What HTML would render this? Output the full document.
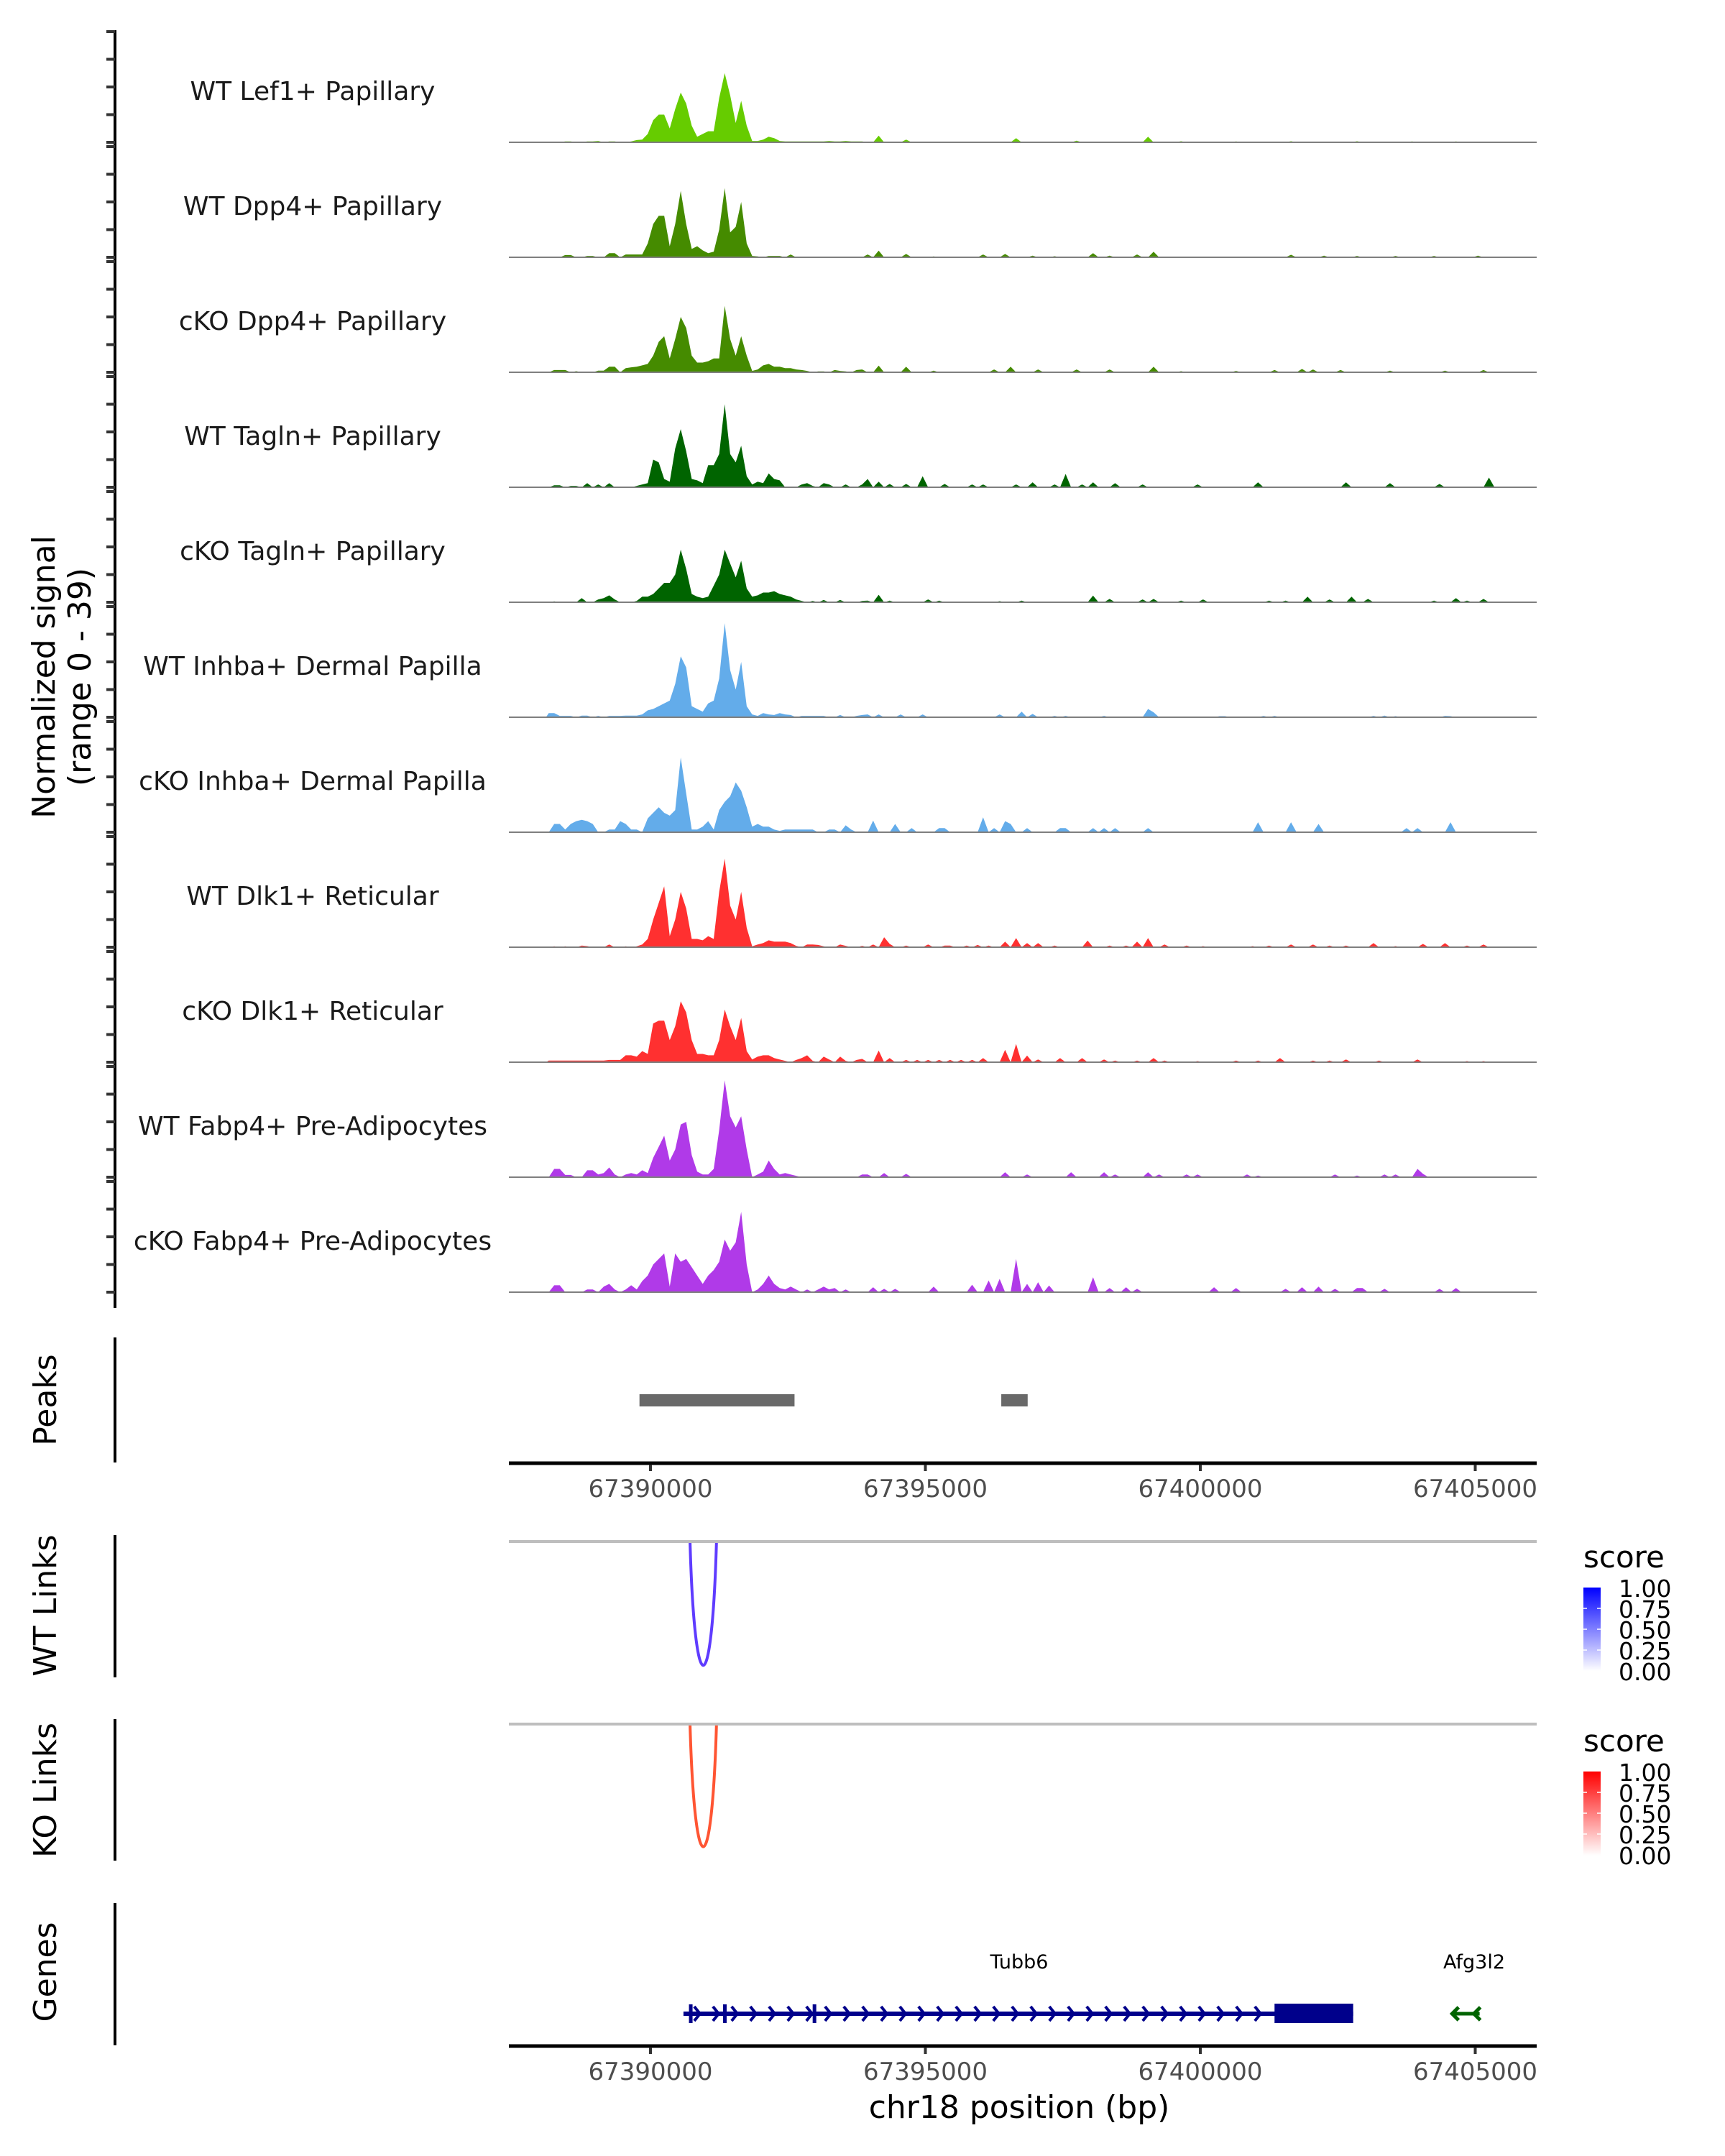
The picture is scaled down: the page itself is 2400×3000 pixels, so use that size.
<!DOCTYPE html>
<html><head><meta charset="utf-8"><title>Coverage plot</title>
<style>html,body{margin:0;padding:0;background:#fff}svg{display:block}text{font-family:"DejaVu Sans","Liberation Sans",sans-serif}</style>
</head><body>
<svg id="fig" xmlns="http://www.w3.org/2000/svg" width="2400" height="3000" viewBox="0 0 2400 3000">
<defs>
<linearGradient id="gBlue" x1="0" y1="1" x2="0" y2="0"><stop offset="0" stop-color="#ffffff"/><stop offset="1" stop-color="#0000ff"/></linearGradient>
<linearGradient id="gRed" x1="0" y1="1" x2="0" y2="0"><stop offset="0" stop-color="#ffffff"/><stop offset="1" stop-color="#ff0000"/></linearGradient>
</defs>
<g id="tracks"></g>
<line x1="160" y1="42" x2="160" y2="1820" stroke="#000" stroke-width="4"/>
<g id="yticks"></g>
<text transform="translate(76,942) rotate(-90)" text-anchor="middle" font-size="44" fill="#000">Normalized signal</text>
<text transform="translate(126,942) rotate(-90)" text-anchor="middle" font-size="44" fill="#000">(range 0 - 39)</text>

<line x1="160" y1="1861" x2="160" y2="2035" stroke="#000" stroke-width="4"/>
<text transform="translate(78,1948) rotate(-90)" text-anchor="middle" font-size="44">Peaks</text>
<g id="peaks"></g>
<line x1="708" y1="2036" x2="2138" y2="2036" stroke="#000" stroke-width="5"/>
<g id="xaxis1"></g>

<line x1="160" y1="2136" x2="160" y2="2334" stroke="#000" stroke-width="4"/>
<text transform="translate(78,2234) rotate(-90)" text-anchor="middle" font-size="44">WT Links</text>
<line x1="708" y1="2145" x2="2138" y2="2145" stroke="#bebebe" stroke-width="4"/>
<g id="wtlinks"></g>

<line x1="160" y1="2392" x2="160" y2="2589" stroke="#000" stroke-width="4"/>
<text transform="translate(78,2491) rotate(-90)" text-anchor="middle" font-size="44">KO Links</text>
<line x1="708" y1="2399" x2="2138" y2="2399" stroke="#bebebe" stroke-width="4"/>
<g id="kolinks"></g>

<g>
<text x="2203" y="2181" font-size="42">score</text>
<rect x="2203" y="2209" width="24" height="116" fill="url(#gBlue)"/>
<g font-size="33">
<text x="2252" y="2222">1.00</text><text x="2252" y="2251">0.75</text><text x="2252" y="2280">0.50</text><text x="2252" y="2309">0.25</text><text x="2252" y="2338">0.00</text></g>
<g stroke="#fff" stroke-width="1.5"><line x1="2203" y1="2238" x2="2208" y2="2238"/><line x1="2222" y1="2238" x2="2227" y2="2238"/><line x1="2203" y1="2267" x2="2208" y2="2267"/><line x1="2222" y1="2267" x2="2227" y2="2267"/><line x1="2203" y1="2296" x2="2208" y2="2296"/><line x1="2222" y1="2296" x2="2227" y2="2296"/></g>
</g>
<g>
<text x="2203" y="2437" font-size="42">score</text>
<rect x="2203" y="2465" width="24" height="117" fill="url(#gRed)"/>
<g font-size="33">
<text x="2252" y="2478">1.00</text><text x="2252" y="2507">0.75</text><text x="2252" y="2536">0.50</text><text x="2252" y="2565">0.25</text><text x="2252" y="2594">0.00</text></g>
<g stroke="#fff" stroke-width="1.5"><line x1="2203" y1="2494" x2="2208" y2="2494"/><line x1="2222" y1="2494" x2="2227" y2="2494"/><line x1="2203" y1="2523" x2="2208" y2="2523"/><line x1="2222" y1="2523" x2="2227" y2="2523"/><line x1="2203" y1="2552" x2="2208" y2="2552"/><line x1="2222" y1="2552" x2="2227" y2="2552"/></g>
</g>

<line x1="160" y1="2648" x2="160" y2="2846" stroke="#000" stroke-width="4"/>
<text transform="translate(78,2744) rotate(-90)" text-anchor="middle" font-size="44">Genes</text>
<g id="genes"></g>
<line x1="708" y1="2847" x2="2138" y2="2847" stroke="#000" stroke-width="5"/>
<g id="xaxis2"></g>
<text x="1418" y="2947" text-anchor="middle" font-size="44" fill="#000">chr18 position (bp)</text>
</svg>
<script>
// ---- data ----
const trackNames = ["WT Lef1+ Papillary","WT Dpp4+ Papillary","cKO Dpp4+ Papillary","WT Tagln+ Papillary","cKO Tagln+ Papillary","WT Inhba+ Dermal Papilla","cKO Inhba+ Dermal Papilla","WT Dlk1+ Reticular","cKO Dlk1+ Reticular","WT Fabp4+ Pre-Adipocytes","cKO Fabp4+ Pre-Adipocytes"];
const trackColors = ["#66cc00","#458b00","#458b00","#006400","#006400","#63acea","#63acea","#ff3030","#ff3030","#b03ae8","#b03ae8"];
const binStart = 67388100;
const binSize = 100;
const nBins = 175;
const core1 = [0,0,0,.3,.3,0,0,.3,.3,.5, 0,.3,.3,0,0,.3,.8,1,3,8, 10,10,5,12,18,14,6,2,3,4, 4,16,25,17,7,15,6,.5,.5,1, 2,1.5,.5,.3,.3,.3,.3,.3,.3,.3, .3,.5,.3,.3,.5,.3,.3,.3];
const core2 = [0,0,0,.8,.8,0,0,.5,.5,0, 0,1.5,1.5,0,1,1,1,1,5,12, 15,15,4,12,24,12,3,4,2.5,1.5, 2,10,25,9,11,20,5,.5,.3,0, .5,.5,.5,0,1,0,0,0,0,0, 0,0,0,0,0,0,0,0];
const core3 = [0,.8,.8,.8,0,.4,0,0,0,.6, .6,2,2,0,1.5,1.8,2,2.5,3,6, 11,13,5,12,20,16,6,3.5,3.5,4, 5,5,24,12,6,13,6,.5,1,2.5, 3,2,2,1.5,1.5,1,.8,.5,0,.3, .3,0,.8,.5,.3,0,.8,1];
const core4 = [0,.7,.7,0,.5,.5,0,1.5,0,1, 0,1.5,0,0,0,0,.5,1,1.5,10, 9,3,2,14,21,13,3,2.5,1.5,8, 8,12,30,12,9,15,4,1,2,1.5, 5,3,2.5,0,0,0,1,1.5,.5,0, 1.5,1,0,0,1,0,0,1];
const core5 = [0,.3,0,0,0,0,1.5,0,0,1, 1.5,2.5,1,0,0,0,.5,2,2,3, 5,7,7,10,19,12,3,2,1.5,2, 6,10,19,14,9,15,5,2,2.5,3.5, 3.5,4,3,2.5,2,1,.5,0,.5,0, .8,0,0,.8,0,0,0,.5];
const core6 = [1.5,1.5,.5,.5,.5,0,.6,.6,0,.5, 0,.5,.5,.5,.6,.6,.6,1,2.5,3, 4,5,6,12,22,18,4,3,2,5, 6,14,34,17,10,20,4,1,.5,1.5, 1,.8,1.5,1,.8,0,.5,.5,.5,.5, .5,0,0,.8,0,0,.5,.8];
const core7 = [0,3,3,1,3,4,4.5,4,3,0, 0,1,1,4,3,1,1,0,5,7, 9,7,6,8,27,14,1,1,2,4, 1,8,11,13,18,15,9,2,3,2, 2,1,.5,1,1,1,1,1,1,0, 0,1,1,0,2.5,1,0,0];
const core8 = [0,.3,0,.3,0,0,.6,.4,0,0, 0,1,0,0,.3,0,.3,1,3,10, 16,22,4,10,20,14,3,3,2.5,4, 3,20,32,15,10,20,7,.3,1,1.5, 2.5,2,2,2,1.5,.5,0,1,1,.8, .3,0,0,1,.5,0,0,.5];
const core9 = [.6,.6,.6,.6,.6,.6,.6,.6,.6,.6, .6,.8,.8,.8,2.5,2.5,2,4,3,14, 15,15,8,13,22,18,8,3,3,2.5, 2.5,8,19,13,8,16,4,1,2,2.5, 2.5,1.5,1,.5,0,.8,1.5,2.5,.5,0, 2,1,0,2,.5,0,.8,.8];
const core10 = [0,3,3,.8,.8,0,0,2.5,2.5,1, 1.5,3.5,1,0,1,1.5,1,2.5,1.5,7, 11,15,6,10,19,20,8,2,1,1, 3,17,35,22,18,22,10,0,1,2, 6,3,1,1.5,1,.5,0,0,0,0, 0,0,0,0,0,0,0,1];
const core11 = [0,2.5,2.5,0,0,0,0,1,1,0, 2,3,1,0,1,2.5,1,4,6,10, 12,14,2,14,11,12,9,6,3,6, 8,11,19,15,18,29,10,0,1,3, 6,3,1.5,1,2,1,0,1,0,1, 2,1,1.5,0,1,0,0,0];
const tailBins1 = [60,65,85,96,109,115,125,135,147,157,165];
const tailVals1 = [2.4,1,1.5,.6,2,.4,.3,.4,.4,.3,.3];
const tailBins2 = [58,60,65,70,79,83,88,92,99,102,107,110,135,141,147,154,161,169];
const tailVals2 = [1,2.4,1.2,.3,1,1.2,.6,.4,1.5,.6,1,2,.9,.6,.5,.5,.5,.6];
const tailBins3 = [60,65,70,81,84,89,96,102,110,115,125,132,137,139,144,153,163,170];
const tailVals3 = [2.4,2,.6,1,2,1,1,1,2,.4,.5,.8,1.2,1,.8,.6,.6,.8];
const tailBins4 = [58,60,62,65,68,72,77,79,85,88,92,94,97,99,103,108,118,129,145,153,162,171];
const tailVals4 = [3,2,1.2,1.2,4,1.2,1,1,1,1.8,1,4.8,1,1.8,1.5,1,1,1.8,1.8,1.5,1.2,3.5];
const tailBins5 = [58,60,62,69,71,82,86,99,102,108,110,115,119,131,134,138,142,146,149,161,165,167,170];
const tailVals5 = [.6,2.7,.6,1,.6,.4,.6,2.4,1.2,1,1.2,.6,1,.6,.6,2,1,2,1.2,.6,1.5,.6,1.2];
const tailBins6 = [58,60,64,68,82,86,88,92,94,101,109,110,122,123,130,132,150,152,154,163,164];
const tailVals6 = [1,1,1,1,1,2,1.2,.5,.5,.5,3,1.8,.4,.4,.5,.5,.5,.6,.4,.5,.4];
const tailBins7 = [59,63,66,71,72,79,81,83,84,87,93,94,99,101,103,109,129,135,140,156,158,164];
const tailVals7 = [4.2,3,1.5,1.5,1.5,5.4,1.5,4,3,1.5,1.5,1.5,1.5,1.5,1.5,1.5,3.6,3.6,3,1.5,1.5,3.6];
const tailBins8 = [59,61,62,65,69,72,73,76,78,80,83,85,87,89,92,98,102,105,107,109,112,116,119,128,131,135,139,142,145,150,154,159,163,167,170];
const tailVals8 = [1,3.6,1.2,.6,1,.6,.6,.6,.8,.6,2,3.3,1.5,1.5,.6,2.4,.6,.6,2,3.3,1,.6,.4,.4,.6,1,1,.6,.6,1.5,.4,1.2,1.5,.6,1];
const tailBins9 = [57,60,62,65,67,69,71,73,75,77,79,83,85,87,89,93,97,101,103,107,110,112,118,125,129,133,139,142,145,151,158,167,170];
const tailVals9 = [1.2,4.2,1.5,.8,.8,.8,.8,.8,.8,.8,1.5,4.5,6.6,2.4,1,1.5,1.5,1,.6,.6,1.5,.6,.4,.6,.6,1.5,.6,.6,1,.6,1,.4,.4];
const tailBins10 = [58,61,65,83,87,95,101,103,109,111,116,118,127,129,143,147,152,154,158,159];
const tailVals10 = [1,1.5,1.2,1.8,1,1.8,1.8,1,1.8,1,1,1,1,.6,1,.6,1,1,3,1.2];
const tailBins11 = [59,61,63,70,77,80,82,85,87,89,91,99,102,105,107,121,125,134,137,140,143,147,148,152,162,165];
const tailVals11 = [1.8,1.2,1.2,2,2.7,4.2,4.8,12,3,3.6,2.4,5.4,1.5,1.8,1.2,1.8,1.5,1.2,1.8,2,1.2,1.5,1.5,1.2,1.2,1.5];
const coreArrays = [core1,core2,core3,core4,core5,core6,core7,core8,core9,core10,core11];
const tailBinArrays = [tailBins1,tailBins2,tailBins3,tailBins4,tailBins5,tailBins6,tailBins7,tailBins8,tailBins9,tailBins10,tailBins11];
const tailValArrays = [tailVals1,tailVals2,tailVals3,tailVals4,tailVals5,tailVals6,tailVals7,tailVals8,tailVals9,tailVals10,tailVals11];
const yTickValues = [0,10,20,30,40];
const peakStarts = [67389800, 67396380];
const peakEnds = [67392620, 67396860];
const wtLinkStart = [67390720];
const wtLinkEnd = [67391200];
const wtLinkScore = [0.75];
const koLinkStart = [67390720];
const koLinkEnd = [67391200];
const koLinkScore = [0.7];
const xTicks = [67390000, 67395000, 67400000, 67405000];
const exonStarts = [67390700, 67391320, 67392950, 67401350];
const exonEnds = [67390760, 67391380, 67393010, 67402780];
const geneStart = 67390600;
const geneEnd = 67402780;
const afgStart = 67404580;
const afgEnd = 67405080;

// ---- scales ----
const NS = "http://www.w3.org/2000/svg";
function xs(bp){ return 905 + (bp - 67390000) * (382.5 / 5000); }
const firstBase = 198, trackStep = 160, pxPerUnit = 3.85;
function baseY(i){ return firstBase + i * trackStep; }
function ys(i, v){ return baseY(i) - v * pxPerUnit; }
function mk(tag, attrs, parent){ const e = document.createElementNS(NS, tag); for (const k in attrs) e.setAttribute(k, attrs[k]); parent.appendChild(e); return e; }

const gT = document.getElementById('tracks');
const gY = document.getElementById('yticks');
trackNames.forEach((name, i) => {
  const vals = new Array(nBins).fill(0);
  coreArrays[i].forEach((v, k) => { vals[k] = v; });
  tailBinArrays[i].forEach((b, j) => { const k = Math.round(b); if (k >= 0 && k < nBins) vals[k] = Math.max(vals[k], tailValArrays[i][j]); });
  const b0 = baseY(i);
  let d = "M" + xs(binStart).toFixed(1) + "," + b0;
  vals.forEach((v, k) => { d += " L" + xs(binStart + k * binSize + binSize / 2).toFixed(1) + "," + ys(i, v).toFixed(1); });
  d += " L" + xs(binStart + nBins * binSize).toFixed(1) + "," + b0 + " Z";
  const area = mk('path', {d: d, fill: trackColors[i], stroke: "none"}, gT);
  
  
  const bl = mk('line', {x1: 708, x2: 2138, y1: b0, y2: b0, stroke: "#7f7f7f", "stroke-width": 2}, gT);
  
  
  const lab = mk('text', {x: 435, y: b0 - 59, "text-anchor": "middle", "font-size": 36, fill: "#1a1a1a"}, gT);
  lab.textContent = name;
  
  
  yTickValues.forEach(t => {
    const tk = mk('line', {x1: 148, x2: 160, y1: ys(i, t), y2: ys(i, t), stroke: "#333", "stroke-width": 4}, gY);
    
    
  });
});

const gP = document.getElementById('peaks');
peakStarts.forEach((s, j) => {
  const r = mk('rect', {x: xs(s), y: 1940, width: xs(peakEnds[j]) - xs(s), height: 17, fill: "#696969"}, gP);
  
  
});

function drawLinks(gid, starts, ends, scores, base, depth, rgb){
  const g = document.getElementById(gid);
  starts.forEach((s, j) => {
    const x1 = xs(s), x2 = xs(ends[j]);
    const yb = base + depth * scores[j] / 0.75;
    const d = "M" + x1 + "," + base + " C" + (x1 + (x2 - x1) * 0.18) + "," + (yb + 40) + " " + (x2 - (x2 - x1) * 0.18) + "," + (yb + 40) + " " + x2 + "," + base;
    const p = mk('path', {d: d, fill: "none", stroke: rgb, "stroke-width": 4}, g);
    
    
  });
}
drawLinks('wtlinks', wtLinkStart, wtLinkEnd, wtLinkScore, 2147, 187, "#5f3cff");
drawLinks('kolinks', koLinkStart, koLinkEnd, koLinkScore, 2401, 198, "#ff5533");

function drawXAxis(gid, yLine){
  const g = document.getElementById(gid);
  xTicks.forEach(t => {
    const tk = mk('line', {x1: xs(t), x2: xs(t), y1: yLine + 2, y2: yLine + 11, stroke: "#333", "stroke-width": 4}, g);
    
    
    const tl = mk('text', {x: xs(t), y: yLine + 47, "text-anchor": "middle", "font-size": 34, fill: "#4d4d4d"}, g);
    tl.textContent = String(t);
    
    
  });
}
drawXAxis('xaxis1', 2036);
drawXAxis('xaxis2', 2847);

// genes
const gG = document.getElementById('genes');
const gy = 2802, navy = "#00008b";
const gl = mk('line', {x1: xs(geneStart), x2: xs(geneEnd), y1: gy, y2: gy, stroke: navy, "stroke-width": 6}, gG);


for (let x = xs(geneStart) + 20; x < xs(exonStarts[3]) - 4; x += 26) {
  const c = mk('path', {d: "M" + (x - 5) + "," + (gy - 10) + " L" + (x + 3) + "," + gy + " L" + (x - 5) + "," + (gy + 10), fill: "none", stroke: navy, "stroke-width": 4}, gG);
  
  
}
exonStarts.forEach((s, j) => {
  const big = (j === exonStarts.length - 1);
  const r = mk('rect', {x: xs(s), y: big ? gy - 14 : gy - 13, width: Math.max(5, xs(exonEnds[j]) - xs(s)), height: big ? 27 : 26, fill: navy}, gG);
  
  
});
const t1 = mk('text', {x: 1418, y: 2739, "text-anchor": "middle", "font-size": 27, fill: "#000"}, gG);
t1.textContent = "Tubb6";


const t2 = mk('text', {x: 2051, y: 2739, "text-anchor": "middle", "font-size": 27, fill: "#000"}, gG);
t2.textContent = "Afg3l2";


const green = "#006400";
const al = mk('line', {x1: xs(afgStart), x2: xs(afgEnd), y1: gy, y2: gy, stroke: green, "stroke-width": 5}, gG);


[xs(afgStart), xs(afgEnd) - 8].forEach(x => {
  const c = mk('path', {d: "M" + (x + 9) + "," + (gy - 9) + " L" + x + "," + gy + " L" + (x + 9) + "," + (gy + 9), fill: "none", stroke: green, "stroke-width": 5}, gG);
  
  
});
</script>
</body></html>
